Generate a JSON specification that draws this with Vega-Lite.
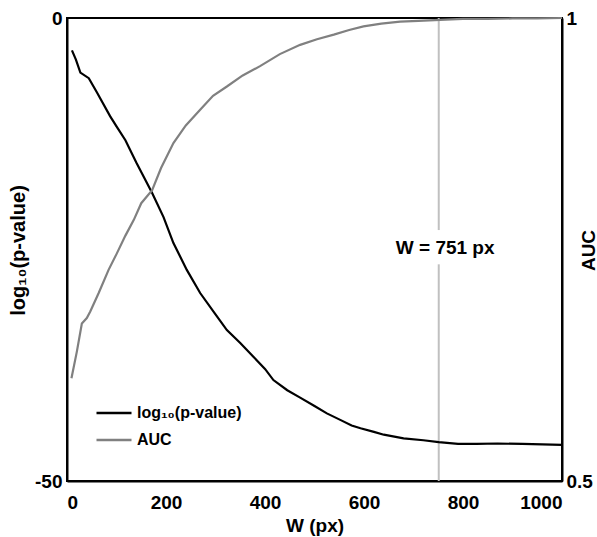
{
  "$schema": "https://vega.github.io/schema/vega-lite/v6.json",
  "width": 495,
  "height": 463,
  "autosize": {"type": "none"},
  "padding": {"left": 67, "top": 18, "right": 35, "bottom": 56},
  "background": "white",
  "config": {
    "font": "Liberation Sans",
    "view": {"stroke": "black", "strokeWidth": 2},
    "axis": {
      "labelFont": "Liberation Sans", "labelFontWeight": "bold", "labelFontSize": 19, "labelColor": "black",
      "titleFont": "Liberation Sans", "titleFontWeight": "bold", "titleFontSize": 19, "titleColor": "black",
      "grid": false, "domainColor": "black", "domainWidth": 2, "tickColor": "black", "tickWidth": 2
    },
    "legend": {
      "orient": "none", "legendX": 28, "legendY": 376, "title": null,
      "labelFont": "Liberation Sans", "labelFontWeight": "bold", "labelFontSize": 16, "labelColor": "black",
      "symbolType": "stroke", "symbolSize": 1225, "symbolStrokeWidth": 2.5, "rowPadding": -12, "padding": 0, "labelOffset": 4
    }
  },
  "datasets": {
    "logp": [
      {"W": 10, "v": -3.5}, {"W": 18, "v": -4.5}, {"W": 27, "v": -5.9}, {"W": 44, "v": -6.5}, {"W": 60, "v": -8.0},
      {"W": 87, "v": -10.6}, {"W": 100, "v": -11.7}, {"W": 118, "v": -13.2}, {"W": 140, "v": -15.6}, {"W": 172, "v": -18.9},
      {"W": 195, "v": -21.5}, {"W": 215, "v": -24.3}, {"W": 242, "v": -27.2}, {"W": 269, "v": -29.7}, {"W": 300, "v": -32.0},
      {"W": 323, "v": -33.7}, {"W": 350, "v": -35.1}, {"W": 377, "v": -36.6}, {"W": 400, "v": -37.9}, {"W": 417, "v": -39.1},
      {"W": 445, "v": -40.2}, {"W": 471, "v": -41.0}, {"W": 500, "v": -41.9}, {"W": 525, "v": -42.7}, {"W": 552, "v": -43.4},
      {"W": 575, "v": -44.0}, {"W": 593, "v": -44.3}, {"W": 620, "v": -44.7}, {"W": 640, "v": -45.0}, {"W": 680, "v": -45.4},
      {"W": 720, "v": -45.6}, {"W": 751, "v": -45.8}, {"W": 790, "v": -46.0}, {"W": 828, "v": -46.0}, {"W": 870, "v": -45.95},
      {"W": 920, "v": -46.0}, {"W": 960, "v": -46.05}, {"W": 1000, "v": -46.1}
    ],
    "auc": [
      {"W": 9, "a": 0.611}, {"W": 20, "a": 0.640}, {"W": 30, "a": 0.670}, {"W": 40, "a": 0.676}, {"W": 47, "a": 0.683},
      {"W": 64, "a": 0.703}, {"W": 84, "a": 0.728}, {"W": 100, "a": 0.745}, {"W": 118, "a": 0.765}, {"W": 135, "a": 0.782},
      {"W": 150, "a": 0.800}, {"W": 172, "a": 0.814}, {"W": 190, "a": 0.838}, {"W": 215, "a": 0.865}, {"W": 240, "a": 0.884},
      {"W": 269, "a": 0.901}, {"W": 295, "a": 0.916}, {"W": 323, "a": 0.926}, {"W": 355, "a": 0.938}, {"W": 390, "a": 0.948},
      {"W": 430, "a": 0.961}, {"W": 471, "a": 0.971}, {"W": 505, "a": 0.977}, {"W": 539, "a": 0.982}, {"W": 570, "a": 0.987},
      {"W": 599, "a": 0.991}, {"W": 635, "a": 0.994}, {"W": 673, "a": 0.996}, {"W": 710, "a": 0.997}, {"W": 754, "a": 0.998},
      {"W": 800, "a": 0.999}, {"W": 850, "a": 0.999}, {"W": 900, "a": 0.9995}, {"W": 950, "a": 0.9997}, {"W": 1000, "a": 1.0}
    ],
    "rule": [
      {"W": 751, "y1": 0, "y2": -22.9},
      {"W": 751, "y1": -26.6, "y2": -50}
    ],
    "note": [
      {"W": 764, "v": -24.8, "label": "W = 751 px"}
    ]
  },
  "layer": [
    {
      "data": {"name": "rule"},
      "mark": {"type": "rule", "color": "#c0c0c0", "strokeWidth": 2},
      "encoding": {
        "x": {"field": "W", "type": "quantitative", "scale": {"domain": [0, 1000]}, "axis": null},
        "y": {"field": "y1", "type": "quantitative", "scale": {"domain": [-50, 0]}, "axis": null},
        "y2": {"field": "y2"}
      }
    },
    {
      "data": {"name": "logp"},
      "transform": [{"calculate": "'log₁₀(p-value)'", "as": "series"}],
      "mark": {"type": "line", "strokeWidth": 2.2},
      "encoding": {
        "x": {"field": "W", "type": "quantitative", "scale": {"domain": [0, 1000]},
          "axis": {"orient": "bottom", "values": [0, 200, 400, 600, 800, 1000], "labelExpr": "'' + datum.value", "title": "W (px)", "ticks": false, "labelPadding": 12, "titlePadding": 4}},
        "y": {"field": "v", "type": "quantitative", "scale": {"domain": [-50, 0]},
          "axis": {"orient": "left", "values": [-50, 0], "labelExpr": "'' + datum.value", "ticks": false, "labelPadding": 5, "title": "log₁₀(p-value)", "titleFontSize": 20, "titleAngle": 270, "titleX": -49, "titleY": 232, "titleBaseline": "middle", "titleAlign": "center"}},
        "color": {"field": "series", "type": "nominal", "scale": {"domain": ["log₁₀(p-value)", "AUC"], "range": ["#000000", "#808080"]}}
      }
    },
    {
      "data": {"name": "auc"},
      "transform": [{"calculate": "'AUC'", "as": "series"}],
      "mark": {"type": "line", "strokeWidth": 2.2},
      "encoding": {
        "x": {"field": "W", "type": "quantitative", "scale": {"domain": [0, 1000]}, "axis": null},
        "y": {"field": "a", "type": "quantitative", "scale": {"domain": [0.5, 1]},
          "axis": {"orient": "right", "values": [0.5, 1], "labelExpr": "'' + datum.value", "ticks": false, "labelPadding": 4, "title": "AUC", "titleAngle": 270, "titleX": 26, "titleY": 232, "titleBaseline": "middle", "titleAlign": "center"}},
        "color": {"field": "series", "type": "nominal", "scale": {"domain": ["log₁₀(p-value)", "AUC"], "range": ["#000000", "#808080"]}}
      }
    },
    {
      "data": {"name": "note"},
      "mark": {"type": "text", "font": "Liberation Sans", "fontWeight": "bold", "fontSize": 19, "align": "center", "baseline": "middle", "color": "black"},
      "encoding": {
        "x": {"field": "W", "type": "quantitative", "scale": {"domain": [0, 1000]}, "axis": null},
        "y": {"field": "v", "type": "quantitative", "scale": {"domain": [-50, 0]}, "axis": null},
        "text": {"field": "label"}
      }
    }
  ],
  "resolve": {"scale": {"y": "independent"}, "axis": {"x": "independent"}}
}
